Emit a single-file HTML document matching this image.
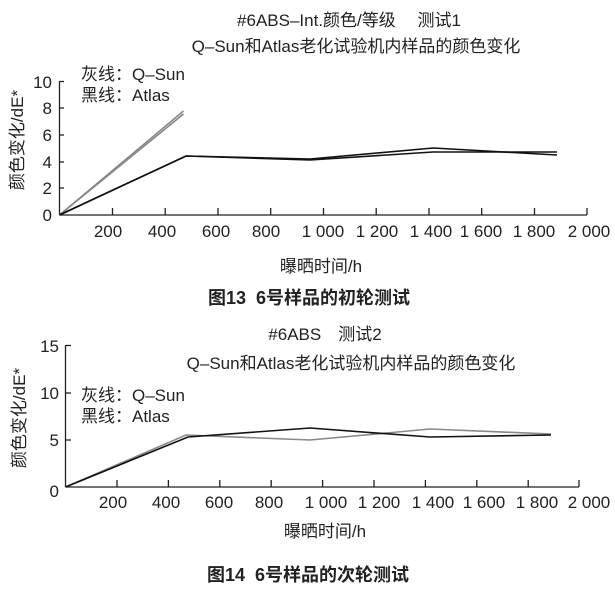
<!DOCTYPE html>
<html><head><meta charset="utf-8"><style>
body{margin:0;background:#fff}
svg{display:block}
text{font-family:"Liberation Sans","Noto Sans CJK SC",sans-serif;fill:#222}
</style></head><body>
<svg width="615" height="598" viewBox="0 0 615 598" xmlns="http://www.w3.org/2000/svg">
<!-- Chart 1 -->
<text x="349" y="26" font-size="17" text-anchor="middle">#6ABS–Int.颜色/等级　 测试1</text>
<text x="356" y="52" font-size="17" text-anchor="middle">Q–Sun和Atlas老化试验机内样品的颜色变化</text>
<text x="81" y="80" font-size="17">灰线：Q–Sun</text>
<text x="81" y="101" font-size="17">黑线：Atlas</text>
<text transform="translate(23,140) rotate(-90)" font-size="17" text-anchor="middle">颜色变化/dE*</text>
<g stroke="#222" stroke-width="1.3" fill="none">
<line x1="59.5" y1="81" x2="59.5" y2="215"/>
<line x1="59.5" y1="215" x2="587" y2="215"/>
<line x1="59.5" y1="81.5" x2="64" y2="81.5"/>
<line x1="59.5" y1="108" x2="64" y2="108"/>
<line x1="59.5" y1="135" x2="64" y2="135"/>
<line x1="59.5" y1="162" x2="64" y2="162"/>
<line x1="59.5" y1="188" x2="64" y2="188"/>
<line x1="112.5" y1="208" x2="112.5" y2="215"/><line x1="165.2" y1="208" x2="165.2" y2="215"/>
<line x1="218" y1="208" x2="218" y2="215"/><line x1="270.7" y1="208" x2="270.7" y2="215"/>
<line x1="323.5" y1="208" x2="323.5" y2="215"/><line x1="376.2" y1="208" x2="376.2" y2="215"/>
<line x1="429" y1="208" x2="429" y2="215"/><line x1="481.7" y1="208" x2="481.7" y2="215"/>
<line x1="534.5" y1="208" x2="534.5" y2="215"/><line x1="587" y1="208" x2="587" y2="215"/>
</g>
<g font-size="17" text-anchor="end">
<text x="52" y="88">10</text><text x="52" y="114">8</text><text x="52" y="141">6</text>
<text x="52" y="168">4</text><text x="52" y="194">2</text><text x="52" y="221">0</text>
</g>
<g font-size="17" text-anchor="middle">
<text x="108" y="237">200</text><text x="162" y="237">400</text><text x="216" y="237">600</text>
<text x="266" y="237">800</text><text x="323" y="237">1 000</text><text x="377" y="237">1 200</text>
<text x="431" y="237">1 400</text><text x="481" y="237">1 600</text><text x="534" y="237">1 800</text>
<text x="589" y="237">2 000</text>
</g>
<text x="321" y="272" font-size="17" text-anchor="middle">曝晒时间/h</text>
<text x="309" y="304" font-size="18" font-weight="bold" text-anchor="middle">图13&#160;&#160;6号样品的初轮测试</text>
<g fill="none" stroke-width="1.6">
<polyline stroke="#888" points="59.5,215 183.5,114"/>
<polyline stroke="#888" points="59.5,215 183.5,111"/>
<polyline stroke="#111" points="59.5,215 186,156 310,159 433,148 557,155"/>
<polyline stroke="#111" points="59.5,215 186,156 310,160 433,152 557,152"/>
</g>
<!-- Chart 2 -->
<text x="325" y="340" font-size="17" text-anchor="middle">#6ABS　测试2</text>
<text x="351" y="369" font-size="17" text-anchor="middle">Q–Sun和Atlas老化试验机内样品的颜色变化</text>
<text x="81" y="401" font-size="17">灰线：Q–Sun</text>
<text x="81" y="422" font-size="17">黑线：Atlas</text>
<text transform="translate(25,418) rotate(-90)" font-size="17" text-anchor="middle">颜色变化/dE*</text>
<g stroke="#222" stroke-width="1.3" fill="none">
<line x1="65.5" y1="345" x2="65.5" y2="487"/>
<line x1="65.5" y1="487" x2="579" y2="487"/>
<line x1="65.5" y1="345.5" x2="71" y2="345.5"/>
<line x1="65.5" y1="393" x2="71" y2="393"/>
<line x1="65.5" y1="440" x2="71" y2="440"/>
<line x1="117" y1="480" x2="117" y2="487"/><line x1="168.4" y1="480" x2="168.4" y2="487"/>
<line x1="219.8" y1="480" x2="219.8" y2="487"/><line x1="271.2" y1="480" x2="271.2" y2="487"/>
<line x1="322.6" y1="480" x2="322.6" y2="487"/><line x1="374" y1="480" x2="374" y2="487"/>
<line x1="425.4" y1="480" x2="425.4" y2="487"/><line x1="476.8" y1="480" x2="476.8" y2="487"/>
<line x1="528.2" y1="480" x2="528.2" y2="487"/><line x1="579" y1="480" x2="579" y2="487"/>
</g>
<g font-size="17" text-anchor="end">
<text x="59" y="352">15</text><text x="59" y="399">10</text><text x="59" y="446">5</text><text x="59" y="497">0</text>
</g>
<g font-size="17" text-anchor="middle">
<text x="113" y="508">200</text><text x="166" y="508">400</text><text x="219" y="508">600</text>
<text x="269" y="508">800</text><text x="326" y="508">1 000</text><text x="379" y="508">1 200</text>
<text x="433" y="508">1 400</text><text x="484" y="508">1 600</text><text x="537" y="508">1 800</text>
<text x="589" y="508">2 000</text>
</g>
<text x="325" y="537" font-size="17" text-anchor="middle">曝晒时间/h</text>
<text x="308" y="581" font-size="18" font-weight="bold" text-anchor="middle">图14&#160;&#160;6号样品的次轮测试</text>
<g fill="none" stroke-width="1.6">
<polyline stroke="#888" points="65.5,487 186,435 310,440 430,429 551,434"/>
<polyline stroke="#111" points="65.5,487 188,437 310,428 430,437 551,435"/>
</g>
</svg>
</body></html>
